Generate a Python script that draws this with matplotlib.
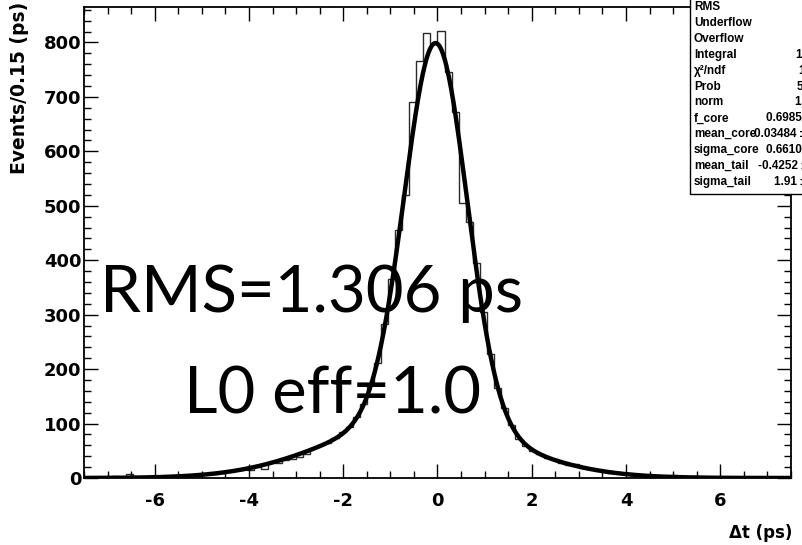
import numpy as np
import matplotlib
matplotlib.use('Agg')
import matplotlib.pyplot as plt
from matplotlib.ticker import MultipleLocator
from matplotlib.patches import Rectangle

plt.rcParams['axes.unicode_minus'] = False

# delta-t histogram, 100 bins of 0.15 ps from -7.5 to 7.5 ps
t_lo, t_hi = -7.5, 7.5
counts = [0, 1, 0, 1, 4, 2, 8, 1, 2, 3,
          3, 2, 4, 3, 6, 6, 5, 7, 8, 11,
          12, 14, 17, 15, 21, 16, 29, 28, 33, 35,
          38, 44, 55, 60, 64, 74, 84, 94, 112, 136,
          170, 212, 282, 365, 455, 520, 690, 765, 818, 797,
          821, 745, 672, 505, 470, 395, 305, 228, 165, 128,
          98, 72, 58, 50, 44, 37, 34, 28, 24, 25,
          18, 17, 15, 12, 10, 9, 7, 6, 5, 4,
          3, 3, 4, 6, 4, 2, 3, 1, 2, 0,
          1, 0, 1, 0, 0, 0, 1, 0, 0, 0]

# double gaussian fit result
norm = 11020
f_core = 0.6985
mean_core = -0.03484
sigma_core = 0.661
mean_tail = -0.4252
sigma_tail = 1.91

# stats box rows
stat_names = ['RMS', 'Underflow', 'Overflow', 'Integral', 'χ²/ndf', 'Prob',
              'norm', 'f_core', 'mean_core', 'sigma_core', 'mean_tail', 'sigma_tail']
stat_values = ['1.306', '0', '0', '1.102e+04', '104.7 / 95', '5.31e-01',
               '1.102e+04 ± 105', '0.6985 ± 0.0251', '-0.03484 ± 0.0117',
               '0.6610 ± 0.0161', '-0.4252 ± 0.0637', '1.91 ± 0.04']
stat_value_x = [810, 810, 810, 795, 799, 797, 795, 766, 750, 766, 758, 774]

edges = np.linspace(t_lo, t_hi, len(counts) + 1)
bw = edges[1] - edges[0]


def gauss(t, mu, s):
    return np.exp(-0.5 * ((t - mu) / s) ** 2) / (np.sqrt(2 * np.pi) * s)


def fit_curve(t):
    return norm * bw * (f_core * gauss(t, mean_core, sigma_core)
                        + (1 - f_core) * gauss(t, mean_tail, sigma_tail))


W, H = 803, 545
fig = plt.figure(figsize=(W / 100, H / 100), dpi=100)
ax = fig.add_axes([84 / W, 1 - 478 / H, (791 - 84) / W, (478 - 7) / H])

ax.stairs(counts, edges, color='#2a2a2a', lw=1.0)
tt = np.linspace(t_lo, t_hi, 600)
ax.plot(tt, fit_curve(tt), color='black', lw=3.2, solid_capstyle='butt')

ax.set_xlim(t_lo, t_hi)
ax.set_ylim(0, 865)
ax.xaxis.set_major_locator(MultipleLocator(2))
ax.xaxis.set_minor_locator(MultipleLocator(0.5))
ax.yaxis.set_major_locator(MultipleLocator(100))
ax.yaxis.set_minor_locator(MultipleLocator(20))
ax.tick_params(which='both', direction='in', top=True, right=True, width=1.0,
               labelsize=13)
ax.tick_params(which='major', length=10)
ax.tick_params(which='minor', length=5)
ax.tick_params(axis='x', pad=10)
ax.tick_params(axis='y', pad=2)
for lab in ax.get_xticklabels() + ax.get_yticklabels():
    lab.set_fontweight('bold')
for sp in ax.spines.values():
    sp.set_linewidth(1.3)

fig.text(792 / W, 1 - 533 / H, 'Δt (ps)', ha='right', va='center',
         fontsize=12, fontweight='bold')
fig.text(20 / W, 1 - 2 / H, 'Events/0.15 (ps)', ha='center', va='top',
         rotation=90, fontsize=13.5, fontweight='bold')

# stats box
stat_font = ['Liberation Sans', 'DejaVu Sans']
fig.add_artist(Rectangle((690 / W, 1 - 194 / H), 0.3, 0.5, transform=fig.transFigure,
                         facecolor='white', edgecolor='black', lw=1.0, zorder=2))
for i, (name, val, vx) in enumerate(zip(stat_names, stat_values, stat_value_x)):
    y = 1 - (7 + 15.9 * i) / H
    fig.text(694 / W, y, name, ha='left', va='center', fontsize=8.5,
             fontweight='bold', family=stat_font, zorder=3)
    fig.text(vx / W, y, val, ha='left', va='center', fontsize=8.5,
             fontweight='bold', family=stat_font, zorder=3)

fig.text(100 / W, 1 - 312 / H, 'RMS=1.306 ps', ha='left', va='baseline',
         fontsize=47, family=['Lato', 'DejaVu Sans'])
fig.text(184 / W, 1 - 413 / H, 'L0 eff=1.0', ha='left', va='baseline',
         fontsize=47, family=['Lato', 'DejaVu Sans'])

fig.savefig('out.png', dpi=100)
